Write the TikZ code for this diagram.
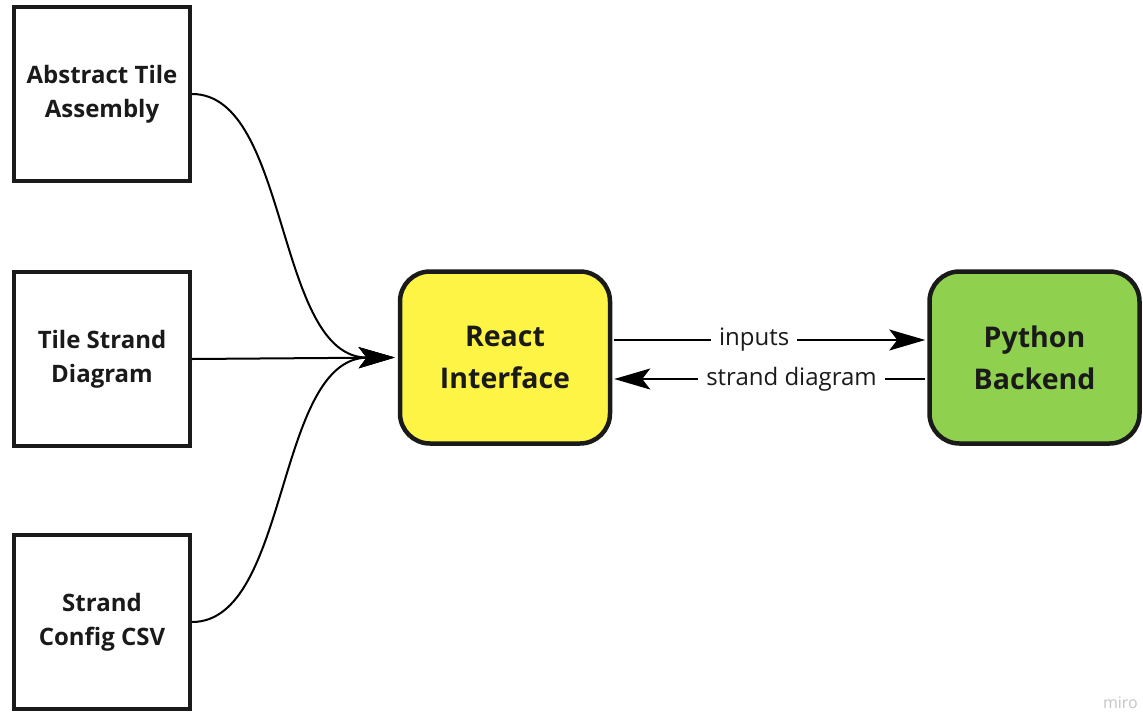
\documentclass[tikz,border=0pt]{standalone}
\usepackage{fontspec}
\setmainfont{Open Sans}
\usetikzlibrary{arrows.meta}
\definecolor{ink}{HTML}{1A1A1A}
\definecolor{reactyellow}{HTML}{FEF445}
\definecolor{pygreen}{HTML}{8FD14F}
\definecolor{wm}{HTML}{C4C4C4}
\tikzset{
  srcbox/.style={draw=ink, line width=4pt, fill=white, minimum width=176pt, minimum height=174pt, align=center, text=ink, font=\bfseries\fontsize{24}{34}\selectfont},
  mainbox/.style={draw=ink, line width=4.5pt, rounded corners=30pt, minimum width=210pt, minimum height=172pt, align=center, text=ink, font=\bfseries\fontsize{28.5}{42}\selectfont},
  conn/.style={draw=black, line width=2pt, -{Stealth[length=36pt, width=21pt, inset=8pt]}},
  lbl/.style={fill=white, text=ink, inner xsep=8pt, inner ysep=1pt, font=\fontsize{24}{28}\selectfont}
}
\begin{document}
\begin{tikzpicture}[x=1pt, y=-1pt]
\useasboundingbox (0,0) rectangle (1143,712);
\node[srcbox] (ata) at (102,94) {Abstract Tile\\Assembly};
\node[srcbox] (tsd) at (102,359) {Tile Strand\\Diagram};
\node[srcbox] (scc) at (102,622) {Strand\\Config CSV};
\node[mainbox, fill=reactyellow] (react) at (505,357.5) {React\\Interface};
\node[mainbox, fill=pygreen] (py) at (1034.5,357.5) {Python\\Backend};
\coordinate (rin) at ([xshift=-3pt]react.west);
\draw[conn] (ata.east) .. controls (290,94) and (275,358) .. (rin);
\draw[conn] (scc.east) .. controls (290,622) and (275,358) .. (rin);
\draw[conn] (tsd.east) -- (rin);
\coordinate (r1) at ([xshift=2pt]react.east |- 0,340);
\coordinate (p1) at ([xshift=-2pt]py.west |- 0,340);
\coordinate (r2) at ([xshift=2pt]react.east |- 0,379);
\coordinate (p2) at ([xshift=-2pt]py.west |- 0,379);
\draw[conn] (r1) -- node[lbl, pos=0.45] {inputs} (p1);
\draw[conn] (p2) -- node[lbl, pos=0.43] {strand diagram} (r2);
\node[text=wm, font=\fontsize{16}{18}\selectfont, anchor=south east, inner sep=0pt] (wmk) at (1138,709) {miro};
\end{tikzpicture}
\end{document}
